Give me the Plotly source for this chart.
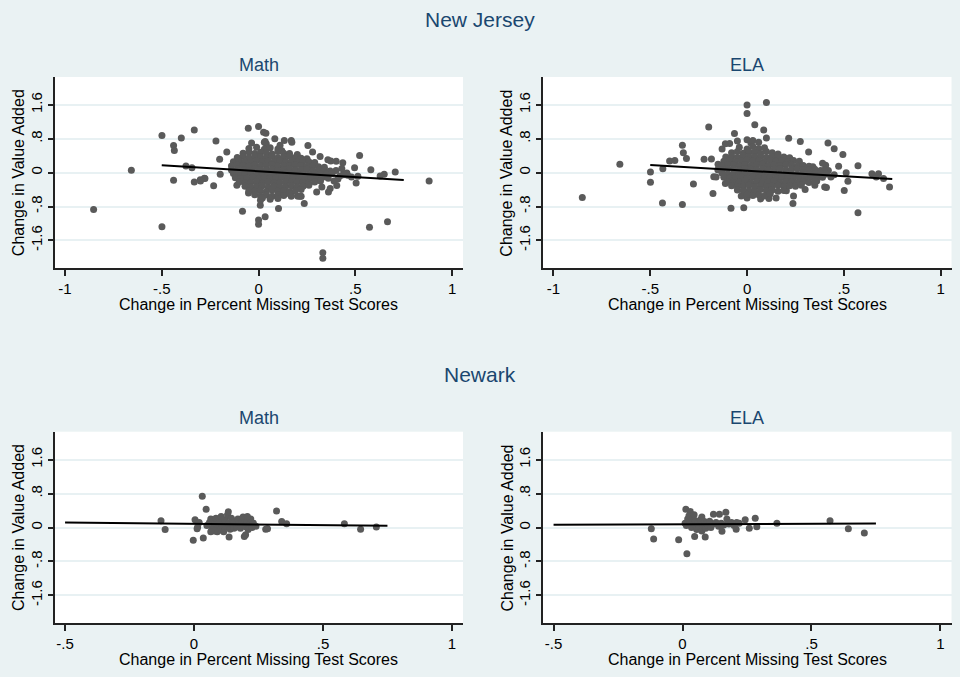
import plotly.graph_objects as go

# ---------------- data ----------------
x_ticks_top = [-1, -0.5, 0, 0.5, 1]
x_ticktext_top = ["-1", "-.5", "0", ".5", "1"]
x_ticks_bot = [-0.5, 0, 0.5, 1]
x_ticktext_bot = ["-.5", "0", ".5", "1"]
y_ticks = [-1.6, -0.8, 0, 0.8, 1.6]
y_ticktext = ["-1.6", "-.8", "0", ".8", "1.6"]

# New Jersey - Math
nj_math_x = [
    -0.852, -0.657, -0.499, -0.499, -0.439, -0.435, -0.439, -0.399, -0.375, -0.344,
    -0.332, -0.332, -0.301, -0.277, -0.232, -0.220, -0.201, -0.198, -0.164, -0.112,
    -0.083, -0.053, -0.052, -0.036, 0.000, 0.000, 0.000, 0.009, 0.010, 0.026,
    0.038, 0.034, 0.040, 0.034, 0.084, 0.103, 0.133, 0.169, 0.172, 0.169,
    0.203, 0.220, 0.236, 0.255, 0.279, 0.318, 0.327, 0.332, 0.332, 0.358,
    0.373, 0.401, 0.435, 0.404, 0.361, 0.370, 0.456, 0.496, 0.504, 0.513,
    0.522, 0.580, 0.573, 0.628, 0.649, 0.666, 0.706, 0.881,
    0.111, 0.030, 0.400, 0.420, 0.440, 0.460, 0.410, 0.430, 0.390, 0.300,
    -0.280, -0.300, 0.170, 0.215, 0.440, 0.480,
    -0.05, -0.01, 0.03, 0.06, 0.10, 0.12,
    -0.08, -0.05, -0.02, 0.01, 0.04, 0.07, 0.10, 0.13, 0.16, 0.20,
    -0.11, -0.08, -0.05, -0.02, 0.01, 0.04, 0.07, 0.10, 0.13, 0.16, 0.19, 0.22, 0.25,
    -0.13, -0.10, -0.07, -0.04, -0.01, 0.02, 0.05, 0.08, 0.11, 0.14, 0.17, 0.20, 0.23, 0.26, 0.29,
    -0.14, -0.11, -0.08, -0.05, -0.02, 0.01, 0.04, 0.07, 0.10, 0.13, 0.16, 0.19, 0.22, 0.25, 0.28, 0.31, 0.34,
    -0.14, -0.11, -0.08, -0.05, -0.02, 0.01, 0.04, 0.07, 0.10, 0.13, 0.16, 0.19, 0.22, 0.25, 0.28, 0.31, 0.34, 0.37,
    -0.13, -0.10, -0.07, -0.04, -0.01, 0.02, 0.05, 0.08, 0.11, 0.14, 0.17, 0.20, 0.23, 0.26, 0.29, 0.32, 0.35, 0.38,
    -0.12, -0.09, -0.06, -0.03, 0.00, 0.03, 0.06, 0.09, 0.12, 0.15, 0.18, 0.21, 0.24, 0.27, 0.30, 0.33, 0.36,
    -0.10, -0.07, -0.04, -0.01, 0.02, 0.05, 0.08, 0.11, 0.14, 0.17, 0.20, 0.23, 0.26, 0.29, 0.32,
    -0.07, -0.04, -0.01, 0.02, 0.05, 0.08, 0.11, 0.14, 0.17, 0.20, 0.23, 0.26,
    -0.05, -0.02, 0.01, 0.04, 0.07, 0.10, 0.13, 0.16, 0.19, 0.22,
    -0.02, 0.01, 0.04, 0.07, 0.10, 0.13, 0.16,
    0.02, 0.06, 0.10,
]
nj_math_y = [
    -0.87, 0.055, 0.878, -1.28, 0.643, 0.525, -0.18, 0.82, 0.157, 0.118,
    1.01, -0.22, -0.165, -0.14, -0.31, 0.745, 0.314, -0.04, 0.486, -0.30,
    -0.91, 1.05, -0.48, 0.70, 1.09, -1.12, -1.22, -0.77, -0.65, 0.957,
    0.933, 0.737, 0.68, -1.04, 0.80, -0.847, 0.76, 0.76, 0.72, -0.557,
    -0.557, -0.557, -0.73, 0.643, 0.486, 0.384, -0.337, -1.89, -2.02, 0.306,
    0.275, 0.267, 0.235, -0.306, -0.455, -0.376, -0.008, 0.118, -0.243, -0.086,
    0.408, 0.07, -1.29, -0.078, -0.04, -1.16, 0.016, -0.196,
    0.65, 0.72, 0.05, -0.08, -0.02, -0.06, -0.15, 0.10, -0.20, -0.46,
    -0.13, -0.20, -0.54, -0.56, -0.05, -0.10,
    0.57, 0.60, 0.55, 0.59, 0.56, 0.52,
    0.46, 0.49, 0.45, 0.48, 0.47, 0.44, 0.50, 0.46, 0.45, 0.43,
    0.36, 0.38, 0.35, 0.39, 0.37, 0.36, 0.38, 0.35, 0.37, 0.39, 0.36, 0.34, 0.33,
    0.26, 0.28, 0.25, 0.27, 0.29, 0.26, 0.27, 0.25, 0.28, 0.26, 0.27, 0.25, 0.28, 0.26, 0.24,
    0.16, 0.18, 0.17, 0.15, 0.18, 0.16, 0.17, 0.19, 0.15, 0.17, 0.16, 0.18, 0.17, 0.15, 0.16, 0.14, 0.13,
    0.06, 0.08, 0.07, 0.05, 0.09, 0.07, 0.06, 0.08, 0.05, 0.07, 0.09, 0.06, 0.07, 0.08, 0.05, 0.06, 0.07, 0.04,
    -0.02, -0.04, -0.03, -0.01, -0.05, -0.03, -0.02, -0.04, -0.03, -0.01, -0.04, -0.02, -0.03, -0.05, -0.02, -0.04, -0.03, -0.02,
    -0.12, -0.14, -0.13, -0.11, -0.15, -0.12, -0.14, -0.13, -0.11, -0.14, -0.12, -0.13, -0.15, -0.12, -0.14, -0.11, -0.13,
    -0.22, -0.24, -0.23, -0.21, -0.25, -0.22, -0.24, -0.23, -0.21, -0.24, -0.22, -0.23, -0.25, -0.22, -0.20,
    -0.32, -0.34, -0.33, -0.31, -0.35, -0.32, -0.34, -0.33, -0.31, -0.34, -0.32, -0.30,
    -0.42, -0.44, -0.43, -0.45, -0.41, -0.44, -0.42, -0.45, -0.43, -0.40,
    -0.52, -0.55, -0.53, -0.56, -0.52, -0.54, -0.50,
    -0.60, -0.63, -0.61,
]
nj_math_fit_x = [-0.5, 0.75]
nj_math_fit_y = [0.173, -0.175]

# New Jersey - ELA
nj_ela_x = [
    -0.851, -0.657, -0.499, -0.499, -0.435, -0.437, -0.400, -0.373, -0.334, -0.334,
    -0.329, -0.313, -0.277, -0.222, -0.198, -0.184, -0.151, -0.172, -0.176, -0.129,
    -0.112, -0.112, -0.083, -0.065, -0.050, -0.017, 0.000, 0.000, 0.040, 0.086,
    0.100, 0.100, 0.113, 0.215, 0.237, 0.275, 0.318, 0.203, 0.418, 0.450,
    0.495, 0.473, 0.406, 0.401, 0.410, 0.433, 0.502, 0.512, 0.521, 0.573,
    0.573, 0.645, 0.667, 0.679, 0.705, 0.736,
    0.00, 0.03, 0.06, 0.02, -0.09, 0.24, 0.15, 0.30, 0.35, 0.42,
    0.45, 0.39, 0.36, -0.15, -0.16, 0.07, 0.00, -0.03,
    -0.04, 0.00, 0.03, 0.06, 0.09,
    -0.08, -0.05, -0.02, 0.01, 0.04, 0.07, 0.10, 0.13, 0.16,
    -0.11, -0.08, -0.05, -0.02, 0.01, 0.04, 0.07, 0.10, 0.13, 0.16, 0.19, 0.22,
    -0.12, -0.09, -0.06, -0.03, 0.00, 0.03, 0.06, 0.09, 0.12, 0.15, 0.18, 0.21, 0.24, 0.27,
    -0.13, -0.10, -0.07, -0.04, -0.01, 0.02, 0.05, 0.08, 0.11, 0.14, 0.17, 0.20, 0.23, 0.26, 0.29, 0.32, 0.34,
    -0.13, -0.10, -0.07, -0.04, -0.01, 0.02, 0.05, 0.08, 0.11, 0.14, 0.17, 0.20, 0.23, 0.26, 0.29, 0.32, 0.35, 0.38, 0.40,
    -0.13, -0.10, -0.07, -0.04, -0.01, 0.02, 0.05, 0.08, 0.11, 0.14, 0.17, 0.20, 0.23, 0.26, 0.29, 0.32, 0.35, 0.38, 0.41,
    -0.12, -0.09, -0.06, -0.03, 0.00, 0.03, 0.06, 0.09, 0.12, 0.15, 0.18, 0.21, 0.24, 0.27, 0.30, 0.33, 0.36, 0.39,
    -0.10, -0.07, -0.04, -0.01, 0.02, 0.05, 0.08, 0.11, 0.14, 0.17, 0.20, 0.23, 0.26, 0.29, 0.32, 0.35,
    -0.08, -0.05, -0.02, 0.01, 0.04, 0.07, 0.10, 0.13, 0.16, 0.19, 0.22, 0.25, 0.28,
    -0.05, -0.02, 0.01, 0.04, 0.07, 0.10, 0.13, 0.16, 0.19,
    0.00, 0.03, 0.06, 0.09, 0.12,
]
nj_ela_y = [
    -0.588, 0.196, 0.016, -0.227, 0.09, -0.72, 0.275, 0.29, -0.75, 0.65,
    0.47, 0.337, -0.267, 0.314, 1.08, 0.32, 0.07, -0.094, -0.49, 0.557,
    -0.259, 0.68, -0.84, 0.925, 0.75, -0.83, 1.60, 1.40, 1.13, 1.01,
    1.66, 0.82, -0.61, 0.815, -0.73, 0.737, 0.486, -0.43, 0.698, 0.565,
    0.43, 0.149, 0.173, -0.337, -0.35, -0.10, -0.424, 0.00, -0.204, 0.165,
    -0.95, -0.024, -0.10, -0.024, -0.141, -0.337,
    0.78, 0.76, 0.72, 0.70, 0.69, -0.55, -0.60, -0.40, -0.30, 0.05,
    -0.05, 0.22, -0.20, 0.20, -0.10, -0.62, -0.60, -0.55,
    0.60, 0.56, 0.62, 0.57, 0.59,
    0.47, 0.50, 0.46, 0.49, 0.48, 0.45, 0.50, 0.47, 0.44,
    0.37, 0.39, 0.36, 0.40, 0.38, 0.37, 0.39, 0.36, 0.38, 0.40, 0.37, 0.35,
    0.27, 0.29, 0.26, 0.28, 0.30, 0.27, 0.28, 0.26, 0.29, 0.27, 0.28, 0.26, 0.29, 0.27,
    0.17, 0.19, 0.18, 0.16, 0.19, 0.17, 0.18, 0.20, 0.16, 0.18, 0.17, 0.19, 0.18, 0.16, 0.17, 0.15, 0.14,
    0.07, 0.09, 0.08, 0.06, 0.10, 0.08, 0.07, 0.09, 0.06, 0.08, 0.10, 0.07, 0.08, 0.09, 0.06, 0.07, 0.08, 0.05, 0.06,
    -0.01, -0.03, -0.02, 0.00, -0.04, -0.02, -0.01, -0.03, -0.02, 0.00, -0.03, -0.01, -0.02, -0.04, -0.01, -0.03, -0.02, -0.01, -0.03,
    -0.11, -0.13, -0.12, -0.10, -0.14, -0.11, -0.13, -0.12, -0.10, -0.13, -0.11, -0.12, -0.14, -0.11, -0.13, -0.10, -0.12, -0.11,
    -0.21, -0.23, -0.22, -0.20, -0.24, -0.21, -0.23, -0.22, -0.20, -0.23, -0.21, -0.22, -0.24, -0.21, -0.23, -0.20,
    -0.31, -0.33, -0.32, -0.30, -0.34, -0.31, -0.33, -0.32, -0.30, -0.33, -0.31, -0.32, -0.30,
    -0.41, -0.43, -0.42, -0.44, -0.40, -0.43, -0.41, -0.44, -0.42,
    -0.51, -0.54, -0.52, -0.55, -0.50,
]
nj_ela_fit_x = [-0.5, 0.75]
nj_ela_fit_y = [0.18, -0.152]

# Newark - Math
nwk_math_x = [
    -0.128, -0.112, -0.003, 0.036, 0.032, 0.047, 0.004, 0.014, 0.020, 0.012,
    0.050, 0.060, 0.065, 0.070, 0.075, 0.080, 0.085, 0.090, 0.095, 0.100,
    0.100, 0.105, 0.110, 0.115, 0.120, 0.125, 0.130, 0.135, 0.140, 0.145,
    0.150, 0.155, 0.160, 0.165, 0.170, 0.175, 0.180, 0.185, 0.190, 0.200,
    0.205, 0.210, 0.215, 0.220, 0.225, 0.230, 0.240,
    0.133, 0.136, 0.195, 0.200, 0.207, 0.278, 0.285, 0.320, 0.340, 0.359,
    0.583, 0.646, 0.707, 0.080, 0.065,
]
nwk_math_y = [
    0.16, -0.05, -0.30, -0.25, 0.74, 0.43, 0.18, 0.01, 0.12, -0.03,
    0.05, 0.12, 0.20, -0.04, 0.02, 0.10, 0.22, -0.10, 0.00, 0.15,
    -0.06, 0.26, 0.05, -0.10, 0.18, 0.02, 0.30, 0.10, -0.04, 0.22,
    0.06, -0.02, 0.15, 0.02, 0.20, 0.08, -0.02, 0.12, 0.25, 0.02,
    0.15, -0.05, 0.08, 0.20, 0.00, 0.10, 0.03,
    0.37, -0.225, -0.21, -0.17, 0.26, -0.04, -0.03, 0.39, 0.14, 0.087,
    0.087, -0.04, 0.01, -0.08, -0.10,
]
nwk_math_fit_x = [-0.5, 0.75]
nwk_math_fit_y = [0.117, 0.04]

# Newark - ELA
nwk_ela_x = [
    -0.121, -0.112, -0.015, 0.017, 0.013, 0.030, 0.047, 0.088, 0.010, 0.015,
    0.020, 0.025, 0.030, 0.035, 0.040, 0.045, 0.050, 0.055, 0.060, 0.065,
    0.070, 0.075, 0.080, 0.085, 0.090, 0.095, 0.100, 0.105, 0.110, 0.120,
    0.120, 0.130, 0.140, 0.143, 0.150, 0.153, 0.160, 0.168, 0.172, 0.180,
    0.190, 0.200, 0.208, 0.210, 0.220, 0.243, 0.259, 0.282, 0.288, 0.366,
    0.572, 0.643, 0.705, 0.075, 0.045,
]
nwk_ela_y = [
    -0.03, -0.27, -0.29, -0.62, 0.43, 0.38, -0.21, -0.225, 0.10, 0.05,
    0.20, 0.28, 0.12, 0.00, 0.22, 0.08, 0.16, -0.05, 0.10, 0.02,
    0.18, -0.08, 0.06, 0.14, -0.02, 0.10, 0.04, 0.15, 0.00, 0.08,
    0.31, 0.12, 0.03, 0.31, 0.10, -0.09, 0.06, 0.36, 0.20, 0.08,
    0.12, 0.05, -0.04, 0.12, 0.10, 0.18, -0.015, 0.22, 0.02, 0.10,
    0.16, -0.03, -0.13, 0.25, 0.30,
]
nwk_ela_fit_x = [-0.5, 0.75]
nwk_ela_fit_y = [0.063, 0.094]

# ---------------- styling ----------------
W, H = 960, 677
BG = "#EAF2F3"
NAVY = "#1A476F"
DOT = "#5a5a5a"
FONT = "Liberation Sans, Arial, sans-serif"

def px_x(p):
    return p / W

def px_y(p):
    return 1 - p / H

panels = [
    (nj_math_x, nj_math_y, nj_math_fit_x, nj_math_fit_y, (54.5, 463), (77, 268.3),
     [-1.054, 1.056], x_ticks_top, x_ticktext_top),
    (nj_ela_x, nj_ela_y, nj_ela_fit_x, nj_ela_fit_y, (543, 951.5), (77, 268.3),
     [-1.054, 1.056], x_ticks_top, x_ticktext_top),
    (nwk_math_x, nwk_math_y, nwk_math_fit_x, nwk_math_fit_y, (54.5, 463), (431.7, 623.3),
     [-0.541, 1.043], x_ticks_bot, x_ticktext_bot),
    (nwk_ela_x, nwk_ela_y, nwk_ela_fit_x, nwk_ela_fit_y, (543, 951.5), (431.7, 623.3),
     [-0.541, 1.043], x_ticks_bot, x_ticktext_bot),
]

fig = go.Figure()
layout = dict(
    width=W, height=H,
    margin=dict(l=0, r=0, t=0, b=0),
    paper_bgcolor=BG, plot_bgcolor="white",
    showlegend=False,
    font=dict(family=FONT, color="black"),
)

annotations = []
for i, (xs, ys, fx, fy, xd, yd, xr, xt, xtt) in enumerate(panels, start=1):
    sfx = "" if i == 1 else str(i)
    fig.add_trace(go.Scatter(
        x=xs, y=ys, mode="markers",
        marker=dict(size=7, color=DOT, line=dict(width=0)),
        xaxis="x" + sfx, yaxis="y" + sfx, hoverinfo="skip",
    ))
    fig.add_trace(go.Scatter(
        x=fx, y=fy, mode="lines",
        line=dict(color="black", width=2),
        xaxis="x" + sfx, yaxis="y" + sfx, hoverinfo="skip",
    ))
    layout["xaxis" + sfx] = dict(
        domain=[px_x(xd[0]), px_x(xd[1])], range=xr,
        anchor="y" + sfx,
        tickvals=xt, ticktext=xtt, ticks="outside", ticklen=6, tickwidth=1.5,
        tickcolor="#222", showline=True, linecolor="#222", linewidth=1.6,
        showgrid=False, zeroline=False,
        tickfont=dict(size=15, color="black", family=FONT),
    )
    layout["yaxis" + sfx] = dict(
        domain=[px_y(yd[1]), px_y(yd[0])], range=[-2.26, 2.26],
        anchor="x" + sfx,
        tickvals=y_ticks, ticktext=y_ticktext, tickangle=-90,
        ticks="outside", ticklen=5, tickwidth=1.5, tickcolor="#222",
        showline=True, linecolor="#222", linewidth=1.6,
        showgrid=True, gridcolor="#E8F1F3", gridwidth=1.8, zeroline=False,
        tickfont=dict(size=15, color="black", family=FONT),
    )
    cx = (xd[0] + xd[1]) / 2
    cy = (yd[0] + yd[1]) / 2
    annotations.append(dict(
        text="Change in Percent Missing Test Scores", x=px_x(cx), y=px_y(yd[1] + 36),
        xref="paper", yref="paper", showarrow=False, xanchor="center", yanchor="middle",
        font=dict(size=16, color="black", family=FONT),
    ))
    annotations.append(dict(
        text="Change in Value Added", x=px_x(xd[0] - 36), y=px_y(cy),
        xref="paper", yref="paper", showarrow=False, xanchor="center", yanchor="middle",
        textangle=-90, font=dict(size=16, color="black", family=FONT),
    ))

titles = [
    ("New Jersey", 480, 20, 21),
    ("Math", (54.5 + 463) / 2, 64.5, 18),
    ("ELA", (543 + 951.5) / 2, 64.5, 18),
    ("Newark", 480, 374, 21),
    ("Math", (54.5 + 463) / 2, 418, 18),
    ("ELA", (543 + 951.5) / 2, 418, 18),
]
for t, x, y, s in titles:
    annotations.append(dict(
        text=t, x=px_x(x), y=px_y(y), xref="paper", yref="paper", showarrow=False,
        xanchor="center", yanchor="middle", font=dict(size=s, color=NAVY, family=FONT),
    ))

layout["annotations"] = annotations
fig.update_layout(**layout)
fig.write_html(
    "out.html",
    config={"displayModeBar": False},
    post_script="document.body.style.margin='0px';document.body.style.padding='0px';",
)
